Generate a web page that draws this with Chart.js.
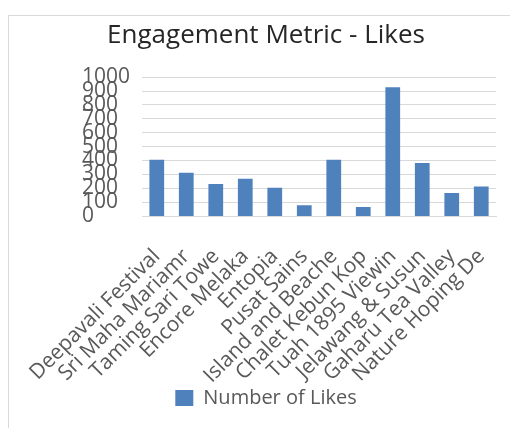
<!DOCTYPE html>
<html>
<head>
<meta charset="utf-8">
<script src="https://cdn.jsdelivr.net/npm/chart.js@4.4.0/dist/chart.umd.min.js"></script>
<style>
  body { margin: 0; background: #fff; }
  .frame {
    position: absolute; left: 8px; top: 15px; width: 502px; height: 413px;
    border-left: 1px solid #d9d9d9; border-top: 1px solid #d9d9d9;
  }
  .frame canvas { display: block; }
</style>
</head>
<body>
<div class="frame"><canvas id="myChart"></canvas></div>
<script>
// data
const places = ['Deepavali Festival', 'Sri Maha Mariamr', 'Taming Sari Towe', 'Encore Melaka', 'Entopia', 'Pusat Sains',
  'Island and Beache', 'Chalet Kebun Kop', 'Tuah 1895 Viewin', 'Jelawang & Susun', 'Gaharu Tea Valley', 'Nature Hoping De'];
const likes = [405, 312, 230, 269, 204, 77, 405, 65, 928, 381, 165, 213];
const yTicks = [0, 100, 200, 300, 400, 500, 600, 700, 800, 900, 1000];

const grey = '#595959';
const font = 'Open Sans';

var ctx = document.getElementById('myChart').getContext('2d');
var myChart = new Chart(ctx, {
  type: 'bar',
  data: {
    labels: places,
    datasets: [{
      label: 'Number of Likes',
      data: likes,
      backgroundColor: '#4f81bd',
      categoryPercentage: 1,
      barPercentage: 0.5
    }]
  },
  options: {
    responsive: true,
    maintainAspectRatio: false,
    animation: false,
    layout: { padding: { left: 27, right: 15, top: 4, bottom: 11 } },
    plugins: {
      title: {
        display: true,
        text: 'Engagement Metric - Likes',
        color: '#262626',
        font: { family: font, size: 26, weight: 'normal' },
        padding: { top: 0, bottom: 26 }
      },
      legend: {
        position: 'bottom',
        labels: {
          color: grey,
          boxWidth: 18,
          boxHeight: 16,
          padding: 2,
          font: { family: font, size: 20 }
        }
      },
      tooltip: { enabled: false }
    },
    scales: {
      // empty spacer so the tick labels start further right
      gap: {
        type: 'linear',
        position: 'left',
        weight: 10,
        grid: { display: false },
        border: { display: false },
        ticks: { display: false },
        afterFit: (axis) => { axis.width = 46; }
      },
      y: {
        min: 0,
        max: 1000,
        afterBuildTicks: (axis) => { axis.ticks = yTicks.map(v => ({ value: v })); },
        grid: { color: '#d9d9d9', drawTicks: false },
        border: { display: false },
        ticks: {
          autoSkip: false,
          color: grey,
          crossAlign: 'far',
          padding: 6,
          font: { family: font, size: 21 },
          callback: (v) => String(v)
        }
      },
      x: {
        grid: { display: false, drawTicks: false },
        border: { color: '#d9d9d9' },
        // labels may hang out like in the original, and sit close to the legend
        afterFit: (axis) => {
          axis.paddingLeft = 0;
          axis.paddingRight = 0;
          axis.height -= 29;
        },
        ticks: {
          color: grey,
          autoSkip: false,
          minRotation: 45,
          maxRotation: 45,
          padding: 28,
          font: { family: font, size: 21 }
        }
      }
    }
  }
});
</script>
</body>
</html>
